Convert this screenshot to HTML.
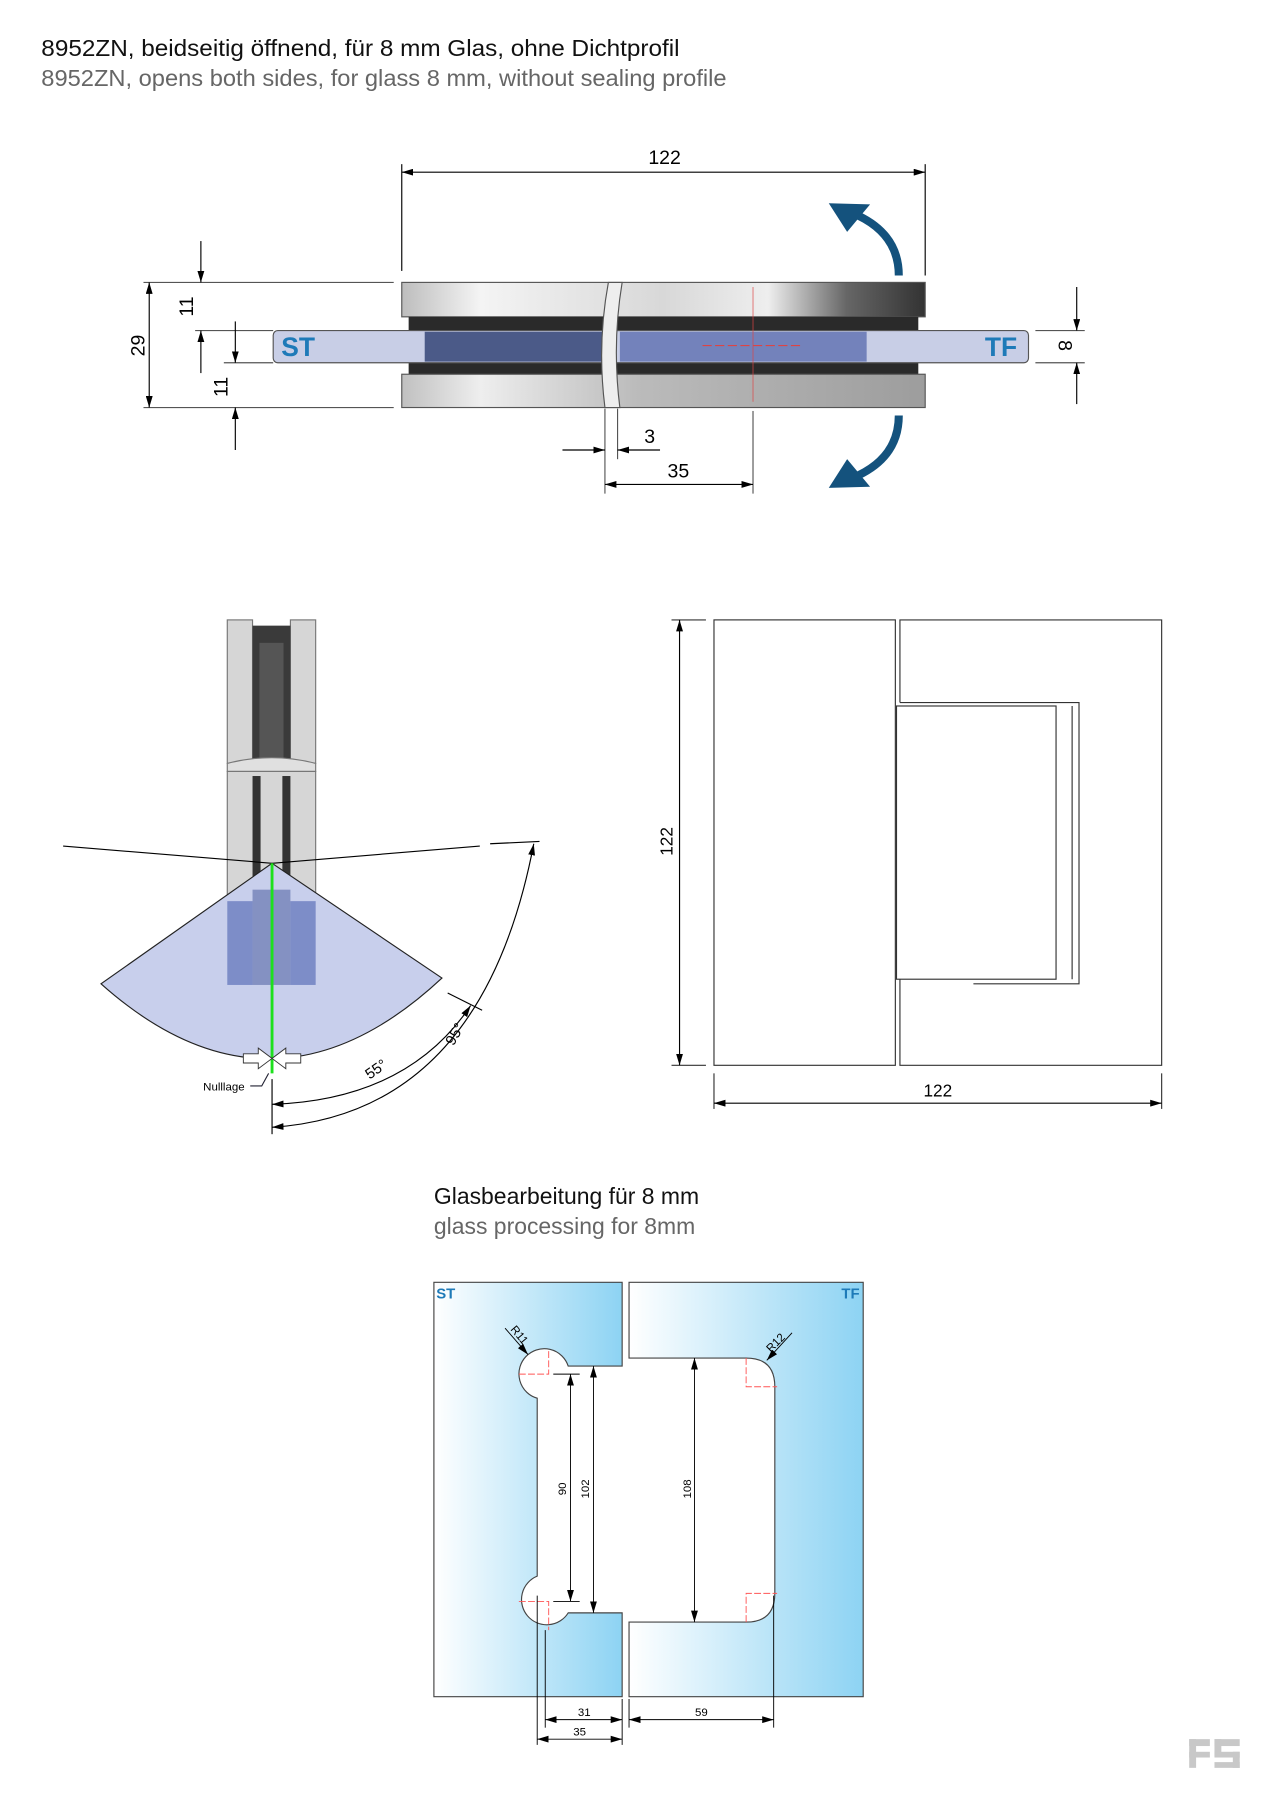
<!DOCTYPE html>
<html><head><meta charset="utf-8"><style>html,body{margin:0;padding:0;background:#fff}svg{display:block}text{font-family:"Liberation Sans",sans-serif}</style></head>
<body>
<svg width="1273" height="1800" viewBox="0 0 1109 1568" preserveAspectRatio="none" xmlns="http://www.w3.org/2000/svg">
<defs>
<marker id="a" viewBox="0 0 10 6" refX="10" refY="3" markerWidth="10" markerHeight="6" orient="auto-start-reverse" markerUnits="userSpaceOnUse"><path d="M0,0L10,3L0,6Z" fill="#000"/></marker>
<linearGradient id="metal" x1="0" x2="1"><stop offset="0" stop-color="#bdbdbd"/><stop offset=".15" stop-color="#f4f4f4"/><stop offset=".5" stop-color="#d8d8d8"/><stop offset=".7" stop-color="#eee"/><stop offset=".85" stop-color="#666"/><stop offset="1" stop-color="#333"/></linearGradient>
<linearGradient id="metal2" x1="0" x2="1"><stop offset="0" stop-color="#c0c0c0"/><stop offset=".15" stop-color="#eee"/><stop offset=".45" stop-color="#bbb"/><stop offset="1" stop-color="#9d9d9d"/></linearGradient>
<linearGradient id="gl" x1="0" x2="1"><stop offset="0" stop-color="#fff"/><stop offset="1" stop-color="#8dd3f3"/></linearGradient>
</defs>
<text x="36" y="49" font-size="20.5" fill="#111" textLength="556" lengthAdjust="spacingAndGlyphs">8952ZN, beidseitig öffnend, für 8 mm Glas, ohne Dichtprofil</text>
<text x="36" y="75" font-size="20.5" fill="#666" textLength="597" lengthAdjust="spacingAndGlyphs">8952ZN, opens both sides, for glass 8 mm, without sealing profile</text>

<!-- top view -->
<g stroke="#000" stroke-width="1" fill="none">
<line x1="350" y1="143" x2="350" y2="236"/><line x1="806" y1="143" x2="806" y2="240"/>
<line x1="350" y1="150" x2="806" y2="150" marker-start="url(#a)" marker-end="url(#a)"/>
<line x1="125" y1="246" x2="343" y2="246" stroke="#555"/><line x1="125" y1="355" x2="343" y2="355" stroke="#555"/>
<line x1="130" y1="246" x2="130" y2="355" marker-start="url(#a)" marker-end="url(#a)"/>
<line x1="170" y1="288" x2="238" y2="288" stroke="#555"/><line x1="195" y1="316" x2="238" y2="316" stroke="#555"/>
<line x1="175" y1="210" x2="175" y2="246" marker-end="url(#a)"/><line x1="175" y1="325" x2="175" y2="288" marker-end="url(#a)"/>
<line x1="205" y1="280" x2="205" y2="316" marker-end="url(#a)"/><line x1="205" y1="392" x2="205" y2="355" marker-end="url(#a)"/>
<line x1="902" y1="288" x2="945" y2="288" stroke="#555"/><line x1="902" y1="316" x2="945" y2="316" stroke="#555"/>
<line x1="938" y1="250" x2="938" y2="288" marker-end="url(#a)"/><line x1="938" y1="352" x2="938" y2="316" marker-end="url(#a)"/>
<line x1="527" y1="356" x2="527" y2="430" stroke="#555"/><line x1="538" y1="356" x2="538" y2="400" stroke="#555"/><line x1="656" y1="358" x2="656" y2="430" stroke="#555"/>
<line x1="490" y1="392" x2="527" y2="392" marker-end="url(#a)"/><line x1="575" y1="392" x2="538" y2="392" marker-end="url(#a)"/>
<line x1="527" y1="422" x2="656" y2="422" marker-start="url(#a)" marker-end="url(#a)"/>
</g>
<text x="579" y="143" font-size="17" text-anchor="middle">122</text>
<text x="566" y="386" font-size="17" text-anchor="middle">3</text>
<text x="591" y="416" font-size="17" text-anchor="middle">35</text>
<text transform="translate(126,301) rotate(-90)" font-size="17" text-anchor="middle">29</text>
<text transform="translate(168,267) rotate(-90)" font-size="17" text-anchor="middle">11</text>
<text transform="translate(198,337) rotate(-90)" font-size="17" text-anchor="middle">11</text>
<text transform="translate(922,301) rotate(90)" font-size="17" text-anchor="middle">8</text>

<rect x="350" y="246" width="456" height="30" fill="url(#metal)" stroke="#555"/>
<rect x="356" y="276" width="444" height="12" fill="#2a2a2a"/>
<rect x="356" y="316" width="444" height="10" fill="#2a2a2a"/>
<rect x="350" y="326" width="456" height="29" fill="url(#metal2)" stroke="#555"/>
<rect x="238" y="288" width="658" height="28" rx="4" fill="#c8cee6" stroke="#555"/>
<rect x="370" y="289" width="157" height="26" fill="#4b5a88"/>
<rect x="540" y="289" width="215" height="26" fill="#7382bb"/>
<path d="M530,246 Q520,300 527,355 L540,355 Q533,300 542,246Z" fill="#eee" stroke="#555"/>
<line x1="612" y1="301" x2="700" y2="301" stroke="#d44" stroke-dasharray="8,3"/>
<line x1="656" y1="250" x2="656" y2="350" stroke="#d44" stroke-width=".6"/>
<text x="245" y="310" font-size="23" font-weight="bold" fill="#1e7ab8">ST</text>
<text x="858" y="310" font-size="23" font-weight="bold" fill="#1e7ab8">TF</text>
<path d="M783,240 Q783,205 748,188" fill="none" stroke="#14527d" stroke-width="7"/>
<path d="M722,177 L758,178 L738,202Z" fill="#14527d"/>
<path d="M783,362 Q783,397 748,414" fill="none" stroke="#14527d" stroke-width="7"/>
<path d="M722,425 L758,424 L738,400Z" fill="#14527d"/>

<!-- hinge angle view -->
<rect x="198" y="540" width="22" height="125" fill="#d6d6d6" stroke="#777"/>
<rect x="253" y="540" width="22" height="125" fill="#d6d6d6" stroke="#777"/>
<rect x="220" y="545" width="33" height="118" fill="#3a3a3a"/>
<rect x="226" y="560" width="21" height="100" fill="#555"/>
<path d="M198,665 Q237,655 275,665 L275,672 L198,672Z" fill="#e0e0e0" stroke="#777"/>
<rect x="198" y="672" width="77" height="186" fill="#d6d6d6" stroke="#777"/>
<rect x="220" y="676" width="7" height="180" fill="#333"/><rect x="246" y="676" width="7" height="180" fill="#333"/>
<path d="M237,752 L88,857 Q237,990 385,852Z" fill="#c8cfec" stroke="#222"/>
<rect x="198" y="785" width="22" height="73" fill="#7d8dc8"/><rect x="253" y="785" width="22" height="73" fill="#7d8dc8"/>
<rect x="220" y="775" width="33" height="83" fill="#6676b0" opacity=".7"/>
<line x1="55" y1="737" x2="237" y2="752" stroke="#000"/><line x1="237" y1="752" x2="418" y2="737" stroke="#000"/>
<line x1="427" y1="735" x2="470" y2="733" stroke="#000"/>
<line x1="237" y1="752" x2="237" y2="935" stroke="#1de01d" stroke-width="2.5"/>
<path d="M212,918 L225,918 L225,913 L237,922 L249,913 L249,918 L262,918 L262,926 L249,926 L249,931 L237,922 L225,931 L225,926 L212,926Z" fill="#fff" stroke="#333" stroke-width=".8"/>
<line x1="237" y1="940" x2="237" y2="988" stroke="#000"/>
<line x1="390" y1="865" x2="420" y2="880" stroke="#000"/>
<path d="M237,962 Q355,958 410,876" fill="none" stroke="#000" marker-start="url(#a)" marker-end="url(#a)"/>
<path d="M237,982 Q420,970 465,735" fill="none" stroke="#000" marker-start="url(#a)" marker-end="url(#a)"/>
<text transform="translate(330,935) rotate(-35)" font-size="13" text-anchor="middle">55°</text>
<text transform="translate(400,903) rotate(-60)" font-size="13" text-anchor="middle">95°</text>
<text x="177" y="950" font-size="10">Nulllage</text>
<path d="M218,946 L228,946 L234,935" stroke="#223" fill="none"/>

<!-- front view -->
<g stroke="#333" fill="none" stroke-width="1">
<rect x="622" y="540" width="158" height="388"/>
<path d="M784,612 V540 H1012 V928 H784 V853"/>
<path d="M784,612 H940 V857 H848"/>
<rect x="781" y="615" width="139" height="238"/>
<line x1="934" y1="615" x2="934" y2="853"/>
<line x1="585" y1="540" x2="615" y2="540"/><line x1="585" y1="928" x2="615" y2="928"/>
<line x1="592" y1="540" x2="592" y2="928" stroke="#000" marker-start="url(#a)" marker-end="url(#a)"/>
<line x1="622" y1="935" x2="622" y2="966"/><line x1="1012" y1="935" x2="1012" y2="966"/>
<line x1="622" y1="961" x2="1012" y2="961" stroke="#000" marker-start="url(#a)" marker-end="url(#a)"/>
</g>
<text transform="translate(586,733) rotate(-90)" font-size="15" text-anchor="middle">122</text>
<text x="817" y="955" font-size="15" text-anchor="middle">122</text>

<!-- glass processing -->
<text x="378" y="1049" font-size="20" fill="#111">Glasbearbeitung für 8 mm</text>
<text x="378" y="1075" font-size="20" fill="#666">glass processing for 8mm</text>
<path d="M378,1117 H542 V1190 H495 A22,22 0 1 0 468,1218 V1373 A22,22 0 1 0 495,1405 H542 V1478 H378Z" fill="url(#gl)" stroke="#444"/>
<path d="M548,1117 H752 V1478 H548 V1413 H650 Q675,1413 675,1388 V1208 Q675,1183 650,1183 H548Z" fill="url(#gl)" stroke="#444"/>
<g stroke="#f55" stroke-width=".8" stroke-dasharray="6,2" fill="none">
<path d="M452,1197 H478 V1175"/><path d="M452,1395 H478 V1420"/>
<path d="M650,1183 V1208 H677"/><path d="M650,1413 V1388 H677"/>
</g>
<text x="380" y="1131" font-size="13" font-weight="bold" fill="#1e7ab8">ST</text>
<text x="733" y="1131" font-size="13" font-weight="bold" fill="#1e7ab8">TF</text>
<g stroke="#000" fill="none" stroke-width=".8">
<line x1="482" y1="1197" x2="505" y2="1197"/><line x1="482" y1="1395" x2="505" y2="1395"/>
<line x1="497" y1="1197" x2="497" y2="1395" marker-start="url(#a)" marker-end="url(#a)"/>
<line x1="517" y1="1190" x2="517" y2="1405" marker-start="url(#a)" marker-end="url(#a)"/>
<line x1="605" y1="1183" x2="605" y2="1413" marker-start="url(#a)" marker-end="url(#a)"/>
<line x1="468" y1="1390" x2="468" y2="1520"/><line x1="475" y1="1420" x2="475" y2="1505"/>
<line x1="542" y1="1480" x2="542" y2="1520"/><line x1="548" y1="1480" x2="548" y2="1505"/><line x1="674" y1="1390" x2="674" y2="1505"/>
<line x1="475" y1="1498" x2="542" y2="1498" marker-start="url(#a)" marker-end="url(#a)"/>
<line x1="468" y1="1515" x2="542" y2="1515" marker-start="url(#a)" marker-end="url(#a)"/>
<line x1="548" y1="1498" x2="674" y2="1498" marker-start="url(#a)" marker-end="url(#a)"/>
<line x1="440" y1="1157" x2="460" y2="1180" marker-end="url(#a)"/>
<line x1="690" y1="1161" x2="668" y2="1185" marker-end="url(#a)"/>
</g>
<text transform="translate(493,1297) rotate(-90)" font-size="10" text-anchor="middle">90</text>
<text transform="translate(513,1297) rotate(-90)" font-size="10" text-anchor="middle">102</text>
<text transform="translate(602,1297) rotate(-90)" font-size="10" text-anchor="middle">108</text>
<text transform="translate(450,1165) rotate(50)" font-size="10" text-anchor="middle">R11</text>
<text transform="translate(678,1172) rotate(-45)" font-size="10" text-anchor="middle">R12</text>
<text x="509" y="1495" font-size="10" text-anchor="middle">31</text>
<text x="505" y="1512" font-size="10" text-anchor="middle">35</text>
<text x="611" y="1495" font-size="10" text-anchor="middle">59</text>
<g fill="#c8c8c8"><rect x="1036" y="1515" width="18" height="6"/><rect x="1036" y="1515" width="6" height="25"/><rect x="1036" y="1526" width="18" height="5"/><rect x="1058" y="1515" width="22" height="6"/><rect x="1058" y="1515" width="6" height="15"/><rect x="1058" y="1526" width="22" height="5"/><rect x="1074" y="1526" width="6" height="14"/><rect x="1058" y="1535" width="22" height="5"/></g>
</svg>
</body></html>
